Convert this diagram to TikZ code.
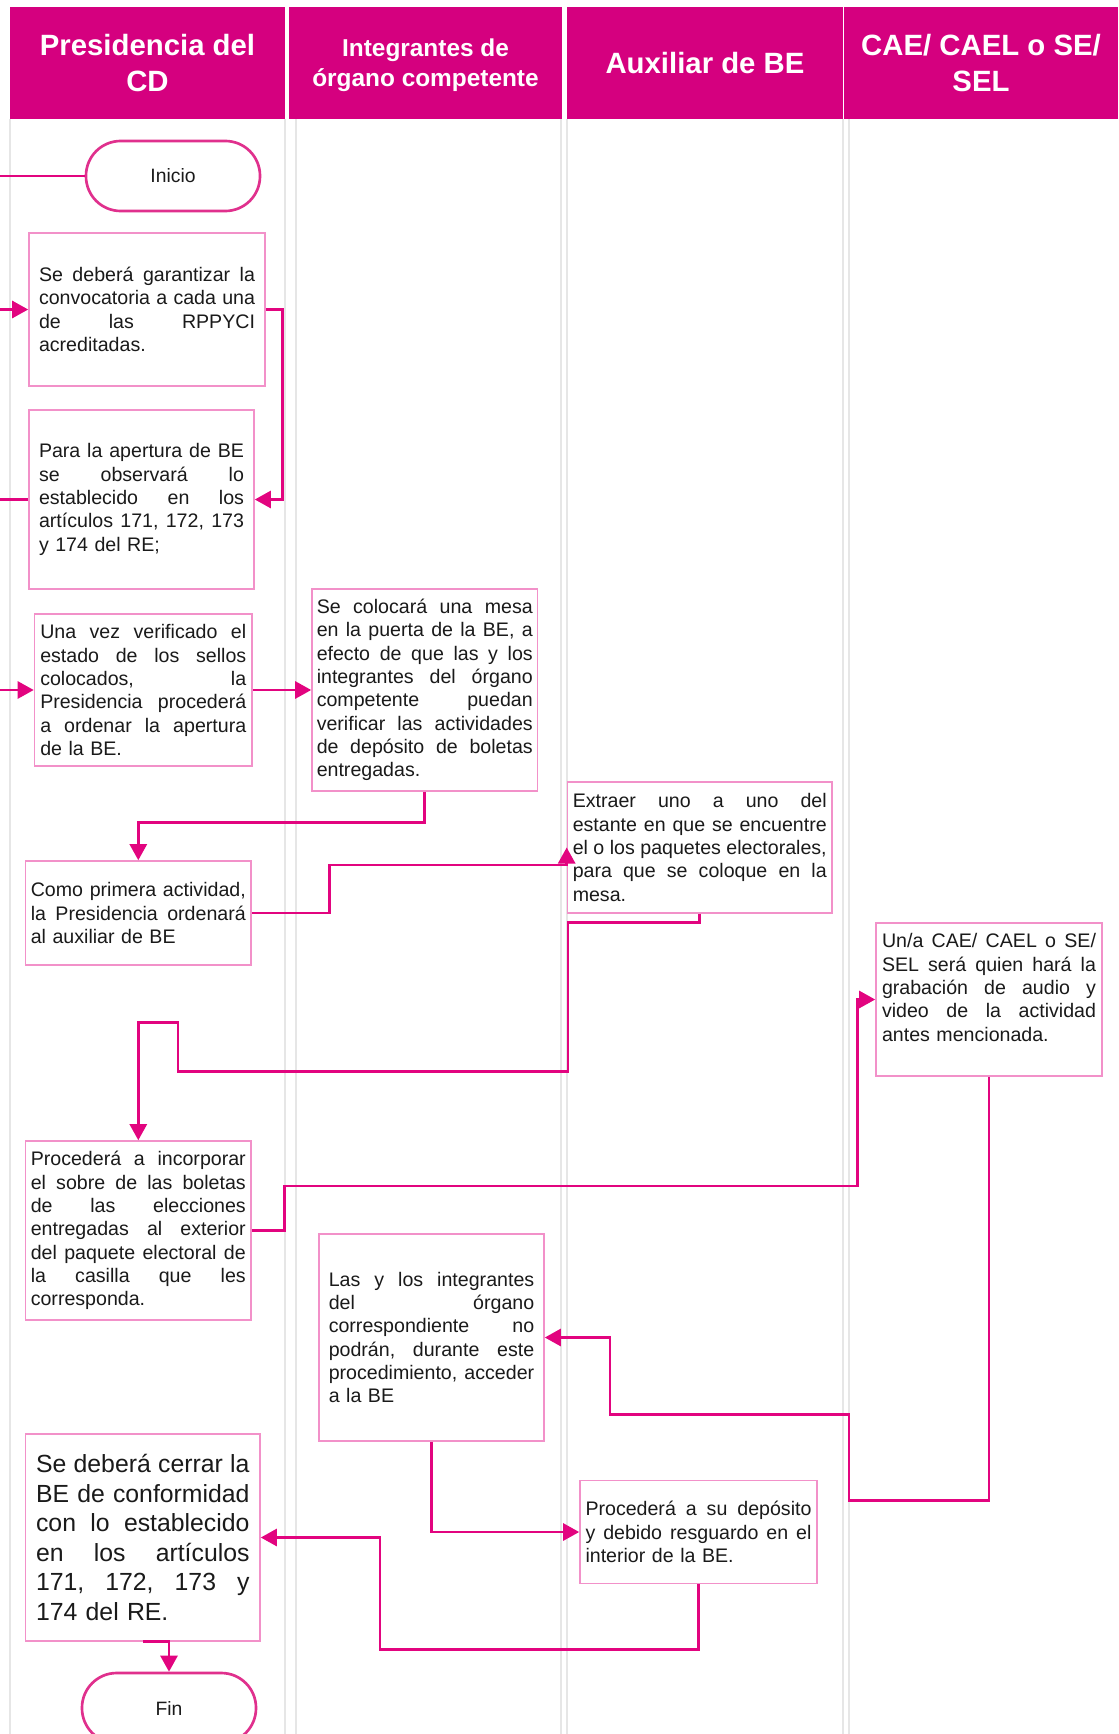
\documentclass[tikz,border=0pt]{standalone}
\usepackage{fontspec}
\setmainfont{Liberation Sans}
\usetikzlibrary{arrows.meta,calc}

\definecolor{inepink}{HTML}{D5007F}
\definecolor{flowpink}{HTML}{E2047F}
\definecolor{boxpink}{HTML}{F291C9}
\definecolor{termpink}{HTML}{E0308D}
\definecolor{lanegray}{HTML}{E6E6E6}
\definecolor{ink}{HTML}{1A1A1A}

% one fully justified line inside a box: word spaces stretch to the box width
\newcommand\J[1]{\leavevmode\hbox to\hsize{\frenchspacing
  \spaceskip=\fontdimen2\font plus 1fil minus \fontdimen4\font\relax #1}\newline}

\begin{document}
\begin{tikzpicture}[x=0.75pt,y=-0.75pt,
  lane/.style={draw=lanegray,line width=1.3pt},
  header/.style={fill=inepink,draw=none,inner sep=0pt,text=white,align=center,
    minimum height=84pt,font=\bfseries\fontsize{22}{27}\selectfont},
  headtext/.style={inner sep=0pt,text=white,align=center,
    font=\bfseries\fontsize{18.3}{22.5}\selectfont},
  procbox/.style={draw=boxpink,line width=1.2pt,fill=white,inner sep=0pt,
    align=left,text=ink,font=\fontsize{14.7}{17.5}\selectfont},
  termbox/.style={draw=termpink,line width=2pt,fill=white,rounded corners=26pt,
    minimum width=130.5pt,minimum height=52.5pt,inner sep=0pt,text=ink,
    font=\fontsize{14.5}{17}\selectfont},
  flow/.style={draw=flowpink,line width=2pt,
    -{Triangle[length=12pt,width=12.75pt]}}
]
\useasboundingbox (0,0) rectangle (1119,1734);
\fill[white] (0,0) rectangle (1119,1734);
\coordinate (leftrail) at (-3,0);

% swimlane borders
\foreach \lx in {10,285,296,561,567,843,849}
  \draw[lane] (\lx,119) -- (\lx,1734);

% lane headers
\node[header,minimum width=206.25pt] (h1) at (147.5,63) {Presidencia del\\CD};
\node[header,minimum width=204.75pt] (h2) at (425.5,63) {};
\node[headtext] (h2t) at (425.5,65) {Integrantes de\\órgano competente};
\node[header,minimum width=207pt] (h3) at (705,63) {Auxiliar de BE};
\node[header,minimum width=205.5pt] (h4) at (981,63) {CAE/ CAEL o SE/\\SEL};

% terminals
\node[termbox] (inicio) at (173,176) {Inicio};
\node[termbox] (fin) at (169,1708) {Fin};

% process steps
\node[procbox,minimum width=177pt,minimum height=114.75pt,text width=162pt]
  (b1) at (147,309.5)
  {\J{Se deberá garantizar la}\J{convocatoria a cada una}\J{de las RPPYCI}acreditadas.};

\node[procbox,minimum width=168.75pt,minimum height=134.25pt,text width=153.75pt]
  (b2) at (141.5,499.5)
  {\J{Para la apertura de BE}\J{se observará lo}\J{establecido en los}\J{artículos 171, 172, 173}y 174 del RE;};

\node[procbox,minimum width=163.1pt,minimum height=114pt,text width=154.5pt]
  (b3) at (143.25,690)
  {\J{Una vez verificado el}\J{estado de los sellos}\J{colocados, la}\J{Presidencia procederá}\J{a ordenar la apertura}de la BE.};

\node[procbox,minimum width=169.1pt,minimum height=151.5pt,text width=162pt]
  (b4) at (424.75,690)
  {\J{Se colocará una mesa}\J{en la puerta de la BE, a}\J{efecto de que las y los}\J{integrantes del órgano}\J{competente puedan}\J{verificar las actividades}\J{de depósito de boletas}entregadas.};

\node[procbox,minimum width=169pt,minimum height=78pt,text width=161.25pt]
  (b5) at (138.3,913)
  {\J{Como primera actividad,}\J{la Presidencia ordenará}al auxiliar de BE};

\node[procbox,minimum width=198.4pt,minimum height=98.25pt,text width=190.5pt]
  (b6) at (699.75,847.5)
  {\J{Extraer uno a uno del}\J{estante en que se encuentre}\J{el o los paquetes electorales,}\J{para que se coloque en la}mesa.};

\node[procbox,minimum width=169pt,minimum height=134.25pt,text width=161.25pt]
  (b7) at (138.3,1230.5)
  {\J{Procederá a incorporar}\J{el sobre de las boletas}\J{de las elecciones}\J{entregadas al exterior}\J{del paquete electoral de}\J{la casilla que les}corresponda.};

\node[procbox,minimum width=169.5pt,minimum height=114.75pt,text width=160.5pt]
  (b8) at (989,999.5)
  {\J{Un/a CAE/ CAEL o SE/}\J{SEL será quien hará la}\J{grabación de audio y}\J{video de la actividad}antes mencionada.\par\kern18pt};

\node[procbox,minimum width=168.75pt,minimum height=155.25pt,text width=154.1pt]
  (b9) at (431.5,1337.5)
  {\J{Las y los integrantes}\J{del órgano}\J{correspondiente no}\J{podrán, durante este}\J{procedimiento, acceder}a la BE};

\node[procbox,minimum width=177.75pt,minimum height=77.25pt,text width=169.5pt]
  (b10) at (698.5,1532)
  {\J{Procederá a su depósito}\J{y debido resguardo en el}interior de la BE.};

\node[procbox,minimum width=175.8pt,minimum height=155.25pt,text width=160.1pt,
  font=\fontsize{18.6}{22.2}\selectfont]
  (b11) at (142.8,1537.5)
  {\J{Se deberá cerrar la}\J{BE de conformidad}\J{con lo establecido}\J{en los artículos}\J{171, 172, 173 y}174 del RE.};

% connectors
\draw[flow] (inicio.west) -- (inicio.west -| leftrail) |- (b1.west);
\draw[flow] (b1.east) -- ++(17,0) |- (b2.east);
\draw[flow] (b2.west) -- (b2.west -| leftrail) |- (b3.west);
\draw[flow] (b3.east) -- (b4.west);
\draw[flow] (b4.south) -- ++(0,31) -| (b5.north);
\draw[flow] (b5.east) -- ++(78,0) |- ($(b6.west)+(0,17.5)$) -- (b6.west);
\draw[flow] (b6.south) -- ++(0,9) -- ++(-131.75,0) -- ++(0,149) -- ++(-390,0)
  -- ++(0,-49) -| (b7.north);
\draw[flow] (b7.east) -- ++(33,0) -- ++(0,-44.5) -- ++(573,0) |- (b8.west);
\draw[flow] (b8.south) -- ++(0,424) -- ++(-140,0) -- ++(0,-86) -- ++(-239,0)
  |- (b9.east);
\draw[flow] (b9.south) |- (b10.west);
\draw[flow] (b10.south) -- ++(0,65) -- ++(-318.5,0) |- (b11.east);
\draw[flow] (b11.south) -- (b11.south -| fin.north) -- (fin.north);
\end{tikzpicture}
\end{document}
